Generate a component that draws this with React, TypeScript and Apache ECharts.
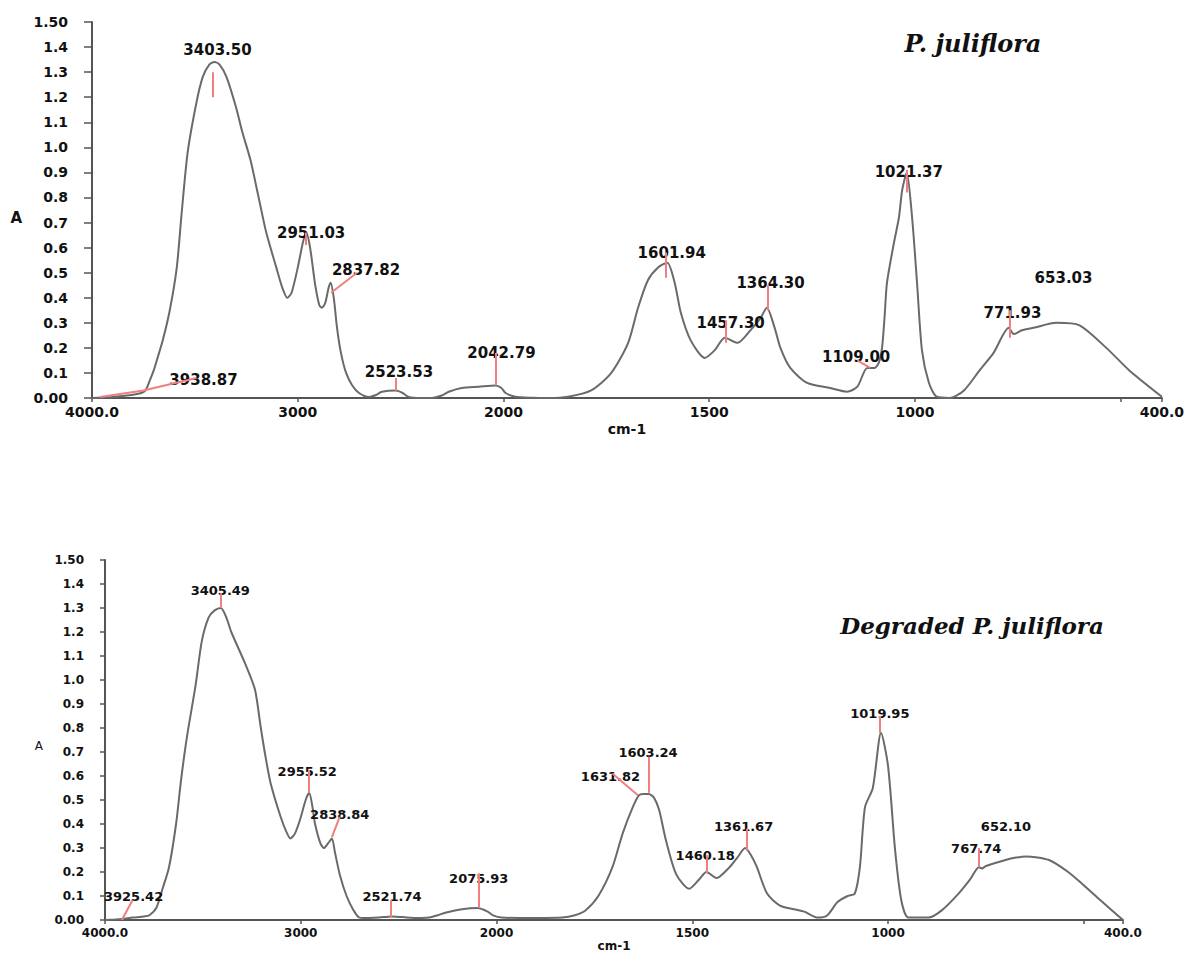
import React, { useEffect, useRef } from "react";
import * as echarts from "echarts";

// ---- axis ticks (wavenumbers, cm-1) ----
const TICK_WAVENUMBERS = [4000, 3000, 2000, 1500, 1000, 500, 400];
const LABEL_WAVENUMBERS = [4000, 3000, 2000, 1500, 1000, 400];
const Y_MIN = 0;
const Y_MAX = 1.5;
const Y_STEP = 0.1;

// ---- P. juliflora spectrum [wavenumber, absorbance] ----
const rawSpectrum: number[][] = [
  [4000, 0], [3950, 0.002], [3900, 0.004], [3850, 0.008], [3800, 0.013], [3760, 0.02],
  [3740, 0.03], [3719, 0.07], [3700, 0.11], [3685, 0.15], [3656, 0.23], [3622, 0.35],
  [3588, 0.52], [3564, 0.74], [3535, 0.98], [3492, 1.18], [3462, 1.28], [3430, 1.33],
  [3405, 1.34], [3380, 1.33], [3346, 1.28], [3300, 1.16], [3269, 1.06], [3230, 0.95],
  [3190, 0.8], [3153, 0.66], [3104, 0.52], [3075, 0.44], [3051, 0.4], [3030, 0.42],
  [3000, 0.52], [2975, 0.62], [2959, 0.66], [2940, 0.6], [2915, 0.45], [2895, 0.37],
  [2882, 0.36], [2866, 0.38], [2850, 0.44], [2840, 0.46], [2825, 0.4], [2809, 0.28],
  [2790, 0.18], [2765, 0.1], [2735, 0.05], [2702, 0.02], [2654, 0.004], [2620, 0.012],
  [2591, 0.025], [2523, 0.03], [2490, 0.02], [2460, 0.004], [2400, 0], [2349, 0],
  [2300, 0.01], [2266, 0.025], [2203, 0.04], [2120, 0.045], [2039, 0.05], [2010, 0.04],
  [1995, 0.02], [1971, 0.005], [1930, 0.001], [1891, 0], [1843, 0.005], [1787, 0.03],
  [1738, 0.1], [1697, 0.22], [1673, 0.36], [1649, 0.47], [1625, 0.52], [1602, 0.54],
  [1584, 0.46], [1569, 0.34], [1545, 0.23], [1511, 0.16], [1487, 0.19], [1462, 0.24],
  [1431, 0.22], [1400, 0.27], [1375, 0.32], [1360, 0.36], [1341, 0.28], [1327, 0.2],
  [1303, 0.12], [1262, 0.06], [1206, 0.04], [1165, 0.025], [1140, 0.045], [1116, 0.12],
  [1098, 0.12], [1088, 0.14], [1080, 0.2], [1074, 0.32], [1068, 0.46], [1051, 0.62],
  [1039, 0.72], [1031, 0.83], [1020, 0.9], [1007, 0.72], [995, 0.46], [983, 0.19],
  [966, 0.06], [947, 0.005], [915, 0], [881, 0.03], [843, 0.11], [809, 0.18],
  [772, 0.28], [760, 0.255], [740, 0.27], [712, 0.28], [656, 0.3], [600, 0.29],
  [535, 0.2], [479, 0.11], [400, 0.005],
];
// [text, wavenumber, absorbance]
const rawPeakLabels: [string, number, number][] = [
  ["3403.50", 3390, 1.39], ["3938.87", 3458, 0.072], ["2951.03", 2935, 0.66],
  ["2837.82", 2668, 0.51], ["2523.53", 2508, 0.104], ["2042.79", 2010, 0.18],
  ["1601.94", 1591, 0.58], ["1457.30", 1448, 0.3], ["1364.30", 1351, 0.46],
  ["1109.00", 1143, 0.164], ["1021.37", 1015, 0.9], ["771.93", 763, 0.34],
  ["653.03", 639, 0.48],
];
// [w1, a1, w2, a2]
const rawPeakMarkers: number[][] = [
  [3414, 1.3, 3414, 1.2], [3961, 0.004, 3750, 0.03], [3750, 0.03, 3492, 0.08],
  [2959, 0.66, 2959, 0.61], [2838, 0.42, 2712, 0.5], [2523, 0.08, 2523, 0.03],
  [2039, 0.18, 2039, 0.05], [1605, 0.58, 1605, 0.48], [1460, 0.31, 1460, 0.22],
  [1358, 0.45, 1358, 0.35], [1140, 0.15, 1109, 0.12], [1019, 0.91, 1019, 0.82],
  [770, 0.35, 770, 0.24],
];

// ---- Degraded P. juliflora spectrum ----
const degradedSpectrum: number[][] = [
  [4000, 0], [3950, 0.002], [3914, 0.004], [3859, 0.01], [3800, 0.015], [3773, 0.02],
  [3738, 0.05], [3708, 0.125], [3673, 0.22], [3637, 0.4], [3612, 0.58], [3582, 0.76],
  [3537, 0.98], [3506, 1.16], [3471, 1.26], [3440, 1.29], [3408, 1.3], [3380, 1.26],
  [3355, 1.2], [3285, 1.07], [3234, 0.96], [3204, 0.8], [3180, 0.68], [3154, 0.57],
  [3103, 0.43], [3075, 0.37], [3053, 0.34], [3030, 0.36], [3003, 0.42], [2975, 0.5],
  [2957, 0.53], [2940, 0.47], [2927, 0.4], [2900, 0.32], [2882, 0.3], [2860, 0.32],
  [2841, 0.34], [2825, 0.28], [2801, 0.19], [2766, 0.1], [2730, 0.04], [2700, 0.01],
  [2650, 0.008], [2600, 0.01], [2539, 0.015], [2480, 0.012], [2400, 0.008], [2348, 0.01],
  [2300, 0.02], [2262, 0.03], [2176, 0.045], [2096, 0.05], [2045, 0.035], [2020, 0.02],
  [1987, 0.01], [1900, 0.008], [1832, 0.01], [1800, 0.02], [1773, 0.04], [1740, 0.1],
  [1704, 0.22], [1678, 0.36], [1652, 0.47], [1636, 0.52], [1625, 0.525], [1611, 0.525],
  [1598, 0.51], [1585, 0.46], [1567, 0.33], [1541, 0.19], [1508, 0.13], [1482, 0.17],
  [1464, 0.2], [1438, 0.175], [1405, 0.22], [1385, 0.26], [1365, 0.3], [1350, 0.27],
  [1335, 0.22], [1309, 0.11], [1276, 0.06], [1240, 0.045], [1214, 0.035], [1180, 0.01],
  [1155, 0.02], [1129, 0.075], [1103, 0.1], [1085, 0.11], [1072, 0.22], [1059, 0.47],
  [1039, 0.55], [1018, 0.78], [1000, 0.64], [982, 0.29], [966, 0.08], [948, 0.01],
  [897, 0.01], [863, 0.04], [820, 0.11], [790, 0.17], [768, 0.22], [760, 0.215],
  [750, 0.225], [700, 0.25], [673, 0.26], [648, 0.265], [589, 0.25], [540, 0.2],
  [504, 0.15], [456, 0.08], [400, 0],
];
const degradedPeakLabels: [string, number, number][] = [
  ["3405.49", 3411, 1.375], ["3925.42", 3854, 0.1], ["2955.52", 2967, 0.62],
  ["2838.84", 2801, 0.44], ["2521.74", 2534, 0.1], ["2075.93", 2091, 0.175],
  ["1631.82", 1709, 0.6], ["1603.24", 1613, 0.7], ["1460.18", 1467, 0.27],
  ["1361.67", 1369, 0.39], ["1019.95", 1021, 0.86], ["767.74", 775, 0.3],
  ["652.10", 699, 0.39],
];
const degradedPeakMarkers: number[][] = [
  [3411, 1.36, 3411, 1.3], [3914, 0.0, 3859, 0.083], [2957, 0.625, 2957, 0.53],
  [2841, 0.345, 2801, 0.43], [2539, 0.083, 2539, 0.008], [2091, 0.195, 2091, 0.05],
  [1704, 0.61, 1639, 0.52], [1611, 0.68, 1611, 0.53], [1464, 0.27, 1464, 0.195],
  [1361, 0.38, 1361, 0.29], [1021, 0.85, 1021, 0.78], [768, 0.3, 768, 0.22],
];

// FTIR abscissa: scale halves above 2000 cm-1
const toU = (w: number) => (w <= 2000 ? w : 2000 + (w - 2000) / 2);
const fromU = (u: number) => (u <= 2000 ? u : 2000 + (u - 2000) * 2);

const AXIS_COLOR = "#555";
const TEXT_COLOR = "#111";
const CURVE_COLOR = "#6a6a6a";
const MARK_COLOR = "#f07f7f";
const FONT = "DejaVu Sans";

function xAxisFor(gridIndex: number, fontSize: number, gap: number) {
  return {
    type: "value",
    gridIndex,
    min: 400,
    max: 3000,
    inverse: true,
    name: "cm-1",
    nameLocation: "middle",
    nameGap: gap,
    nameTextStyle: { color: TEXT_COLOR, fontSize, fontWeight: "bold", fontFamily: FONT },
    axisLine: { show: true, lineStyle: { color: AXIS_COLOR, width: 2 } },
    axisTick: {
      show: true,
      customValues: TICK_WAVENUMBERS.map(toU),
      length: 4,
      lineStyle: { color: AXIS_COLOR, width: 1.5 },
    },
    axisLabel: {
      show: true,
      customValues: LABEL_WAVENUMBERS.map(toU),
      margin: 7,
      color: TEXT_COLOR,
      fontSize,
      fontWeight: "bold",
      fontFamily: FONT,
      formatter: (u: number) => {
        const w = Math.round(fromU(u));
        return w === 4000 || w === 400 ? w.toFixed(1) : String(w);
      },
    },
    splitLine: { show: false },
  };
}

function yAxisFor(gridIndex: number, fontSize: number, nameGap: number, tickLen: number, nameSize: number, nameWeight: string) {
  return {
    type: "value",
    gridIndex,
    min: Y_MIN,
    max: Y_MAX,
    interval: Y_STEP,
    name: "A",
    nameLocation: "middle",
    nameRotate: 0,
    nameGap,
    nameTextStyle: {
      color: TEXT_COLOR,
      fontSize: nameSize,
      fontWeight: nameWeight,
      fontFamily: FONT,
      verticalAlign: "top",
    },
    axisLine: { show: true, lineStyle: { color: AXIS_COLOR, width: 2 } },
    axisTick: { show: true, length: tickLen, lineStyle: { color: AXIS_COLOR, width: 1.5 } },
    axisLabel: {
      margin: tickLen + 16,
      color: TEXT_COLOR,
      fontSize,
      fontWeight: "bold",
      fontFamily: FONT,
      formatter: (v: number) => {
        if (Math.abs(v) < 1e-9) return "0.00";
        if (Math.abs(v - 1.5) < 1e-9) return "1.50";
        return v.toFixed(1);
      },
    },
    splitLine: { show: false },
  };
}

function spectrumSeries(idx: number, data: number[][]) {
  return {
    type: "line",
    xAxisIndex: idx,
    yAxisIndex: idx,
    data: data.map(([w, a]) => [toU(w), a]),
    showSymbol: false,
    symbol: "none",
    smooth: 0.25,
    lineStyle: { color: CURVE_COLOR, width: 2 },
    silent: true,
    z: 2,
  };
}

function peakSeries(idx: number, labels: [string, number, number][], markers: number[][], fontSize: number) {
  return {
    type: "scatter",
    xAxisIndex: idx,
    yAxisIndex: idx,
    symbolSize: 0,
    silent: true,
    z: 4,
    itemStyle: { opacity: 1, color: "transparent" },
    data: labels.map(([t, w, a]) => ({ name: t, value: [toU(w), a] })),
    label: {
      show: true,
      position: "inside",
      formatter: "{b}",
      color: TEXT_COLOR,
      opacity: 1,
      fontSize,
      fontWeight: "bold",
      fontFamily: FONT,
    },
    markLine: {
      silent: true,
      symbol: ["none", "none"],
      label: { show: false },
      lineStyle: { color: MARK_COLOR, width: 2, type: "solid", opacity: 1 },
      data: markers.map(([w1, a1, w2, a2]) => [
        { coord: [toU(w1), a1] },
        { coord: [toU(w2), a2] },
      ]),
    },
  };
}

export default function App() {
  const ref = useRef<HTMLDivElement>(null);
  useEffect(() => {
    if (!ref.current) return;
    const chart = echarts.init(ref.current, null, { renderer: "svg" });
    chart.setOption({
      animation: false,
      backgroundColor: "#ffffff",
      grid: [
        { left: 92, top: 22, width: 1073, height: 376 },
        { left: 105, top: 560, width: 1018, height: 360 },
      ],
      xAxis: [xAxisFor(0, 14, 24), xAxisFor(1, 12, 19)],
      yAxis: [yAxisFor(0, 14, 70, 8, 15, "bold"), yAxisFor(1, 12, 62, 5, 12, "normal")],
      graphic: [
        {
          type: "text",
          x: 973,
          y: 43,
          style: {
            text: "P. juliflora",
            font: "italic bold 24px 'DejaVu Serif'",
            fill: "#111",
            textAlign: "center",
            textVerticalAlign: "middle",
          },
        },
        {
          type: "text",
          x: 972,
          y: 625,
          style: {
            text: "Degraded P. juliflora",
            font: "italic bold 23px 'DejaVu Serif'",
            fill: "#111",
            textAlign: "center",
            textVerticalAlign: "middle",
          },
        },
      ],
      series: [
        spectrumSeries(0, rawSpectrum),
        peakSeries(0, rawPeakLabels, rawPeakMarkers, 15),
        spectrumSeries(1, degradedSpectrum),
        peakSeries(1, degradedPeakLabels, degradedPeakMarkers, 13),
      ],
    });
    return () => chart.dispose();
  }, []);
  return (
    <div
      ref={ref}
      style={{ position: "fixed", left: 0, top: 0, width: 1187, height: 953, background: "#fff" }}
    />
  );
}
